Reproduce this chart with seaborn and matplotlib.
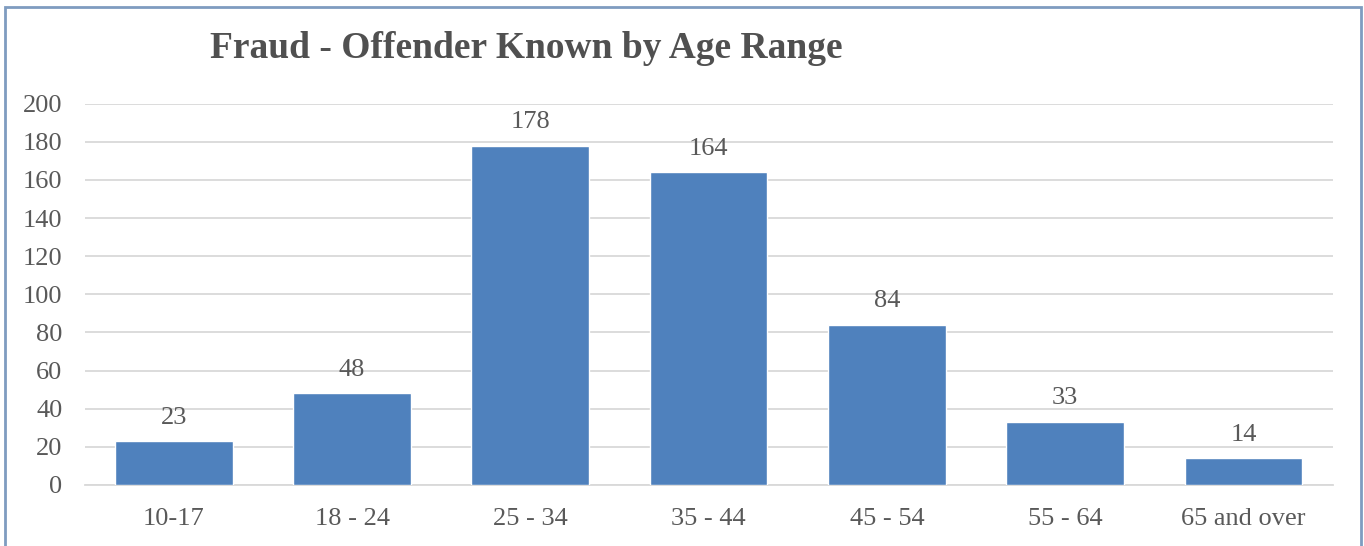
import matplotlib
matplotlib.use("Agg")
import matplotlib.pyplot as plt
import seaborn as sns
import pandas as pd
from matplotlib.patches import Rectangle

# veri
age_ranges = ["10-17", "18 - 24", "25 - 34", "35 - 44", "45 - 54", "55 - 64", "65 and over"]
counts = [23, 48, 178, 164, 84, 33, 14]
y_ticks = [0, 20, 40, 60, 80, 100, 120, 140, 160, 180, 200]

df = pd.DataFrame({"Age Range": age_ranges, "Count": counts})

sns.set_style("white")
plt.rcParams["font.family"] = ["Liberation Serif", "DejaVu Serif"]

text_col = "#595959"
bar_col = "#4f81bd"

fig = plt.figure(figsize=(13.64, 5.46), dpi=100)
ax = fig.add_axes([0.062, 0.112, 0.915, 0.698])

sns.barplot(data=df, x="Age Range", y="Count", color=bar_col, width=0.66,
            saturation=1, ax=ax, zorder=3)

ax.set_ylim(0, 200)
ax.set_yticks(y_ticks)
ax.yaxis.grid(True, color="#d9d9d9", linewidth=1.3, zorder=0)
ax.set_axisbelow(True)
for s in ["top", "right", "left"]:
    ax.spines[s].set_visible(False)
ax.spines["bottom"].set_color("#d9d9d9")
ax.spines["bottom"].set_linewidth(1.3)
ax.tick_params(axis="both", length=0, labelsize=19, colors=text_col)
ax.tick_params(axis="x", pad=17)
ax.tick_params(axis="y", pad=16)
ax.set_xlabel("")
ax.set_ylabel("")

# bar etiketleri
for c in ax.containers:
    ax.bar_label(c, labels=[str(v) for v in counts], padding=9, fontsize=19, color=text_col)

fig.text(0.386, 0.912, "Fraud - Offender Known by Age Range", ha="center", va="center",
         fontsize=27, fontweight="bold", color="#505050")

# cerceve
fig.patches.append(Rectangle((0.004, -0.01), 0.994, 0.998, transform=fig.transFigure,
                             fill=False, edgecolor="#7f9cc0", linewidth=2))

fig.savefig("out.png", dpi=100, facecolor="white")
